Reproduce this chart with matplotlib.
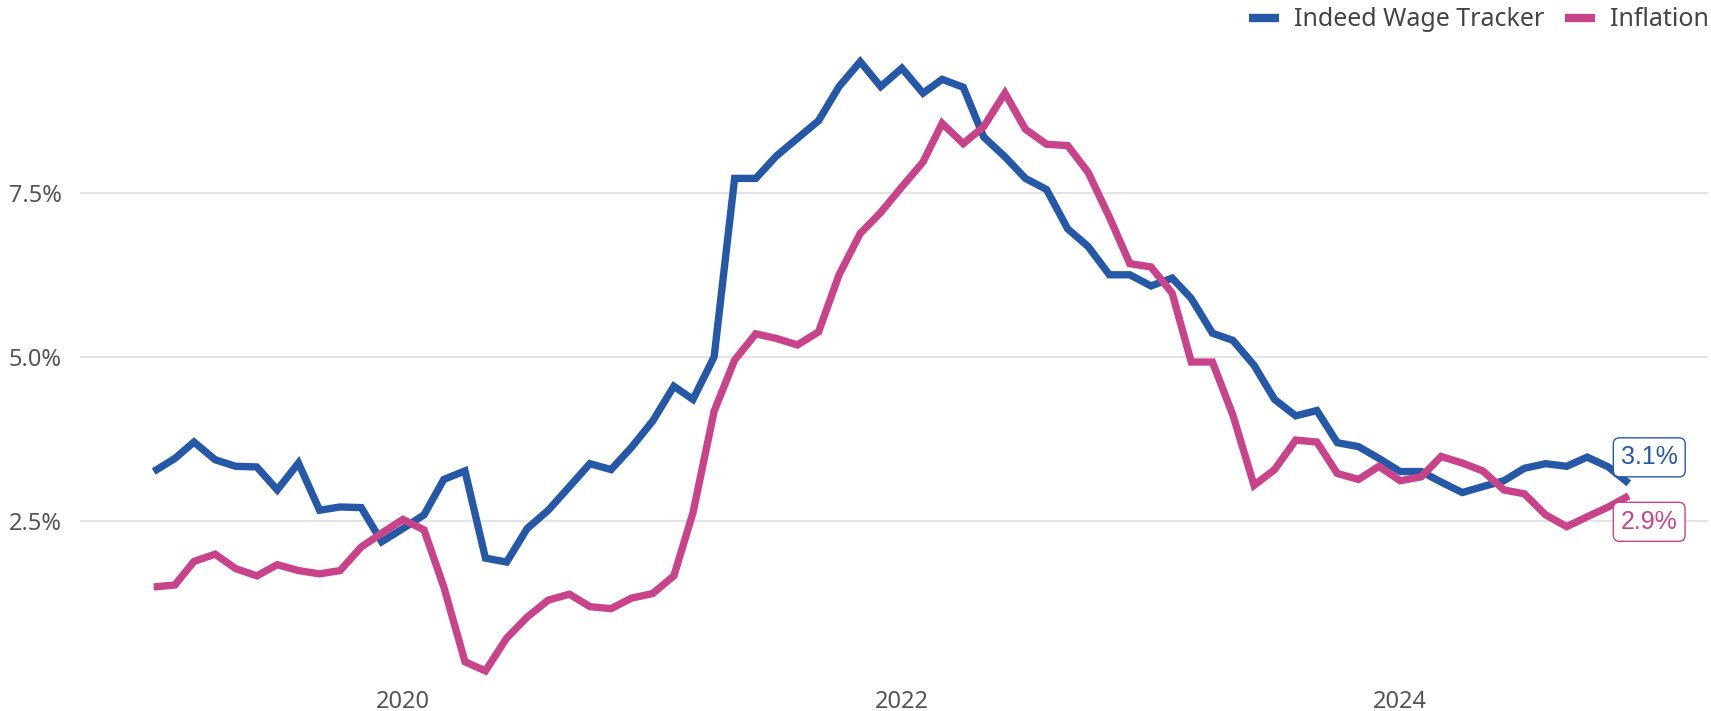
import numpy as np
import pandas as pd
import matplotlib
matplotlib.use("Agg")
import matplotlib.pyplot as plt

# monthly, Jan 2019 - Dec 2024 (year-over-year %)
months = pd.date_range("2019-01-01", periods=72, freq="MS")

wage_tracker = [
    3.25, 3.45, 3.70, 3.43, 3.33, 3.32, 2.97, 3.38, 2.66, 2.71, 2.70, 2.18,
    2.38, 2.59, 3.13, 3.26, 1.93, 1.87, 2.38, 2.66, 3.02, 3.37, 3.28, 3.62,
    4.02, 4.55, 4.35, 5.00, 7.72, 7.72, 8.06, 8.33, 8.60, 9.12, 9.50, 9.12,
    9.40, 9.02, 9.23, 9.11, 8.35, 8.05, 7.72, 7.55, 6.95, 6.68, 6.25, 6.25,
    6.08, 6.20, 5.89, 5.36, 5.25, 4.87, 4.35, 4.10, 4.18, 3.69, 3.63, 3.45,
    3.25, 3.25, 3.09, 2.93, 3.02, 3.11, 3.30, 3.37, 3.33, 3.47, 3.32, 3.07,
]

inflation = [
    1.49, 1.52, 1.88, 1.99, 1.77, 1.66, 1.83, 1.74, 1.69, 1.74, 2.10, 2.31,
    2.52, 2.36, 1.49, 0.35, 0.21, 0.71, 1.03, 1.29, 1.38, 1.19, 1.16, 1.32,
    1.39, 1.66, 2.62, 4.17, 4.95, 5.35, 5.28, 5.18, 5.38, 6.25, 6.88, 7.20,
    7.59, 7.97, 8.56, 8.25, 8.51, 9.02, 8.47, 8.24, 8.22, 7.81, 7.13, 6.42,
    6.37, 5.97, 4.92, 4.92, 4.11, 3.04, 3.28, 3.73, 3.70, 3.22, 3.13, 3.33,
    3.11, 3.17, 3.48, 3.38, 3.26, 2.97, 2.91, 2.59, 2.41, 2.56, 2.71, 2.88,
]

series_names = ["Indeed Wage Tracker", "Inflation"]
colors = ["#2658a8", "#c9438a"]
yticks = [2.5, 5.0, 7.5]
year_ticks = pd.to_datetime(["2020-01-01", "2022-01-01", "2024-01-01"])

fig = plt.figure(figsize=(17.11, 7.11), dpi=100)
ax = fig.add_axes([80 / 1711, 1 - 684.7 / 711, 1628 / 1711, 644.7 / 711])

for vals, name, c in zip([wage_tracker, inflation], series_names, colors):
    ax.plot(months, vals, color=c, lw=5.3, label=name, solid_joinstyle="miter",
            solid_capstyle="butt", zorder=3)

# end labels
offsets = [26, -26]
for vals, c, dy in zip([wage_tracker, inflation], colors, offsets):
    ax.annotate(f"{vals[-1]:.1f}%", xy=(months[-1], vals[-1]), xytext=(-8, dy),
                textcoords="offset pixels", ha="left", va="center",
                fontsize=18, color=c, family="Liberation Sans", zorder=5,
                bbox=dict(boxstyle="round,pad=0.3,rounding_size=0.25", fc="white",
                          ec=c, lw=1))

ax.set_ylim(0, 9.83)
ax.set_xlim(pd.Timestamp("2018-09-15"), pd.Timestamp("2025-03-27"))
ax.set_yticks(yticks)
ax.set_yticklabels([f"{t:.1f}%" for t in yticks])
ax.set_xticks(year_ticks)
ax.set_xticklabels([str(d.year) for d in year_ticks])
ax.grid(axis="y", color="#dcdcdc", lw=1.1)
ax.set_axisbelow(True)
for s in ax.spines.values():
    s.set_visible(False)
ax.tick_params(axis="both", length=0, labelsize=17, labelcolor="#555555")
ax.tick_params(axis="y", pad=13)
ax.tick_params(axis="x", pad=4)
for lbl in ax.get_xticklabels() + ax.get_yticklabels():
    lbl.set_family("Noto Sans")

leg = fig.legend(loc="upper right", bbox_to_anchor=(1.0, 0.993), ncol=2,
                 frameon=False, handlelength=1.2, handletextpad=0.6,
                 columnspacing=0.8, borderaxespad=0.0, borderpad=0.1,
                 prop={"family": "Noto Sans", "size": 18})
for t in leg.get_texts():
    t.set_color("#444444")
for h in leg.get_lines():
    h.set_linewidth(6)

fig.savefig("out.png", dpi=100)
